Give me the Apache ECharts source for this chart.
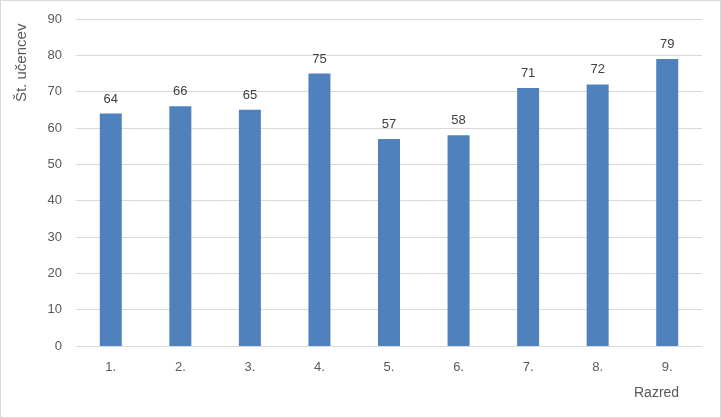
<!DOCTYPE html>
<html><head><meta charset="utf-8">
<script src="https://cdn.jsdelivr.net/npm/echarts@6/dist/echarts.min.js"></script>
<style>html,body{margin:0;padding:0;background:#fff}#c{width:721px;height:418px;box-sizing:border-box;border:1px solid #d9d9d9}</style>
</head><body><div id="c"></div>
<script>
const categories = ['1.','2.','3.','4.','5.','6.','7.','8.','9.'];
const values = [64,66,65,75,57,58,71,72,79];
const yTicks = {min:0,max:90,interval:10};
const chart = echarts.init(document.getElementById('c'));
const font = '"Liberation Sans", Arial, sans-serif';
chart.setOption({
  animation:false,
  grid:{left:75,right:18,top:18,bottom:71},
  xAxis:{type:'category',data:categories,
    axisLine:{lineStyle:{color:'#d9d9d9'}},axisTick:{show:false},
    axisLabel:{color:'#595959',fontSize:13,fontFamily:font,margin:15}},
  yAxis:{type:'value',min:yTicks.min,max:yTicks.max,interval:yTicks.interval,
    axisLine:{show:false},axisTick:{show:false},
    splitLine:{lineStyle:{color:'#d9d9d9'}},
    axisLabel:{color:'#595959',fontSize:13,fontFamily:font,margin:14}},
  series:[{type:'bar',data:values,barWidth:22,itemStyle:{color:'#4f81bd'},
    label:{show:true,position:'top',distance:8,color:'#404040',fontSize:13,fontFamily:font}}],
  graphic:[
    {type:'text',left:633,top:385,style:{text:'Razred',fill:'#595959',font:'14px '+font}},
    {type:'text',x:13,y:101,rotation:Math.PI/2,style:{text:'Št. učencev',fill:'#595959',font:'15px '+font}}
  ]
});
</script></body></html>
